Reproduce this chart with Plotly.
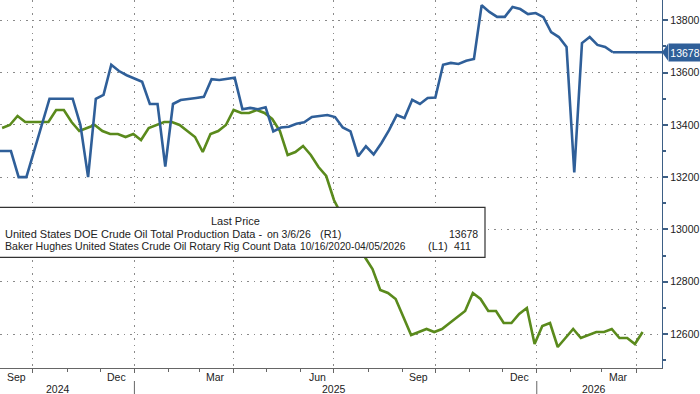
import plotly.graph_objects as go
import pandas as pd

# ---------------- data ----------------
# US DOE weekly crude oil production (kb/d), weekly points, last one plotted 2026-03-11
prod_last_date = "2026-03-11"
production = [
    13300, 13300, 13300, 13200, 13200, 13300, 13400, 13500, 13500, 13500,
    13500, 13400, 13200, 13500, 13515, 13630, 13606, 13590, 13579, 13565,
    13480, 13480, 13240, 13480, 13495, 13500, 13503, 13507, 13575, 13572,
    13576, 13580, 13460, 13465, 13460, 13467, 13375, 13390, 13393, 13404,
    13410, 13430, 13434, 13438, 13430, 13390, 13375, 13280, 13318, 13287,
    13330, 13380, 13438, 13426, 13496, 13480, 13503, 13505, 13630, 13637,
    13633, 13645, 13652, 13858, 13832, 13813, 13813, 13851, 13843, 13824,
    13828, 13812, 13755, 13736, 13698, 13218, 13713, 13736, 13706, 13698,
    13678,
]

# Baker Hughes US crude oil rotary rig count, weekly points, last one plotted 2026-04-07
rigs_last_date = "2026-04-07"
rigs = [
    479, 480, 483, 481, 481, 481, 481, 485, 485, 481,
    478, 479, 480, 478, 477, 477, 476, 477, 475, 479,
    480, 481, 481, 480, 478, 476, 471, 477, 478, 480,
    485, 484, 484, 485, 484, 482, 478, 470, 471, 473,
    470, 466, 463, 455, 450, 446, 441, 436, 432, 425,
    424, 422, 416, 410, 411, 412, 411, 412, 414, 416,
    418, 424, 422, 418, 418, 414, 414, 417, 419, 407,
    413, 414, 406, 409, 412, 409, 410, 411, 411, 412,
    409, 409, 407, 411,
]

month_label_dates = ["2024-09-16", "2024-12-16", "2025-03-16", "2025-06-16",
                     "2025-09-16", "2025-12-16", "2026-03-16"]
month_labels = ["Sep", "Dec", "Mar", "Jun", "Sep", "Dec", "Mar"]
year_label_dates = ["2024-10-24", "2025-07-01", "2026-02-22"]
year_labels = ["2024", "2025", "2026"]
year_breaks = ["2025-01-01", "2026-01-01"]
quarter_starts = ["2024-10-01", "2025-01-01", "2025-04-01", "2025-07-01",
                  "2025-10-01", "2026-01-01", "2026-04-01"]

legend_title = "Last Price"
name_prod = "United States DOE Crude Oil Total Production Data -"
date_prod = "on 3/6/26"
name_rigs = "Baker Hughes United States Crude Oil Rotary Rig Count Data"
date_rigs = "10/16/2020-04/05/2026"

x_range = ["2024-09-01 02:00", "2026-04-24 14:00"]
y_right_range = [12470, 13877.7]
y_left_range = [399, 521.67]

# ---------------- layout helpers ----------------
W, H = 700, 394
ML, MR, MT, MB = 0, 38, 0, 26
PW, PH = W - ML - MR, H - MT - MB

def px(x):
    return (x - ML) / PW

def py(y):
    return 1 - (y - MT) / PH

BLUE = "#2f5f99"
GREEN = "#5a8a1c"
FONT = "Liberation Sans"
TXT = "#222222"

prod_dates = pd.date_range(end=prod_last_date, periods=len(production), freq="7D")
rig_dates = pd.date_range(end=rigs_last_date, periods=len(rigs), freq="7D")

fig = go.Figure()
fig.add_trace(go.Scatter(x=rig_dates, y=rigs, mode="lines", yaxis="y",
                         line=dict(color=GREEN, width=2.6), hoverinfo="skip"))
fig.add_trace(go.Scatter(x=prod_dates, y=production, mode="lines", yaxis="y2",
                         line=dict(color=BLUE, width=2.6), hoverinfo="skip"))
# last-price guide line from the final point to the axis
fig.add_trace(go.Scatter(x=[prod_dates[-1], x_range[1]], y=[production[-1], production[-1]],
                         mode="lines", yaxis="y2", line=dict(color=BLUE, width=2.6),
                         hoverinfo="skip"))

fig.update_layout(
    width=W, height=H, margin=dict(l=ML, r=MR, t=MT, b=MB),
    paper_bgcolor="white", plot_bgcolor="white", showlegend=False,
    font=dict(family=FONT, size=11, color=TXT),
    xaxis=dict(range=x_range, type="date", tickmode="array", tickvals=quarter_starts,
               showticklabels=False, showgrid=True, gridcolor="#8a8a8a", griddash="1.5px,5px",
               gridwidth=1, ticks="outside", ticklen=4, tickcolor="#666",
               showline=True, linecolor="#666", linewidth=1, zeroline=False,
               minor=dict(tickmode="linear", tick0="2024-01-01", dtick="M1",
                          ticks="outside", ticklen=3, tickcolor="#666", showgrid=False)),
    yaxis=dict(range=y_left_range, visible=False, showgrid=False, zeroline=False),
    yaxis2=dict(range=y_right_range, overlaying="y", side="right", anchor="x",
                tickmode="linear", tick0=12600, dtick=200, tickformat="d",
                showgrid=True, gridcolor="#8a8a8a", griddash="1.5px,5px", gridwidth=1,
                ticks="outside", ticklen=5, tickwidth=2, tickcolor="#3d5f85",
                showline=True, linecolor="#3d5f85", linewidth=1.2, zeroline=False,
                tickfont=dict(size=10.5, color=TXT),
                minor=dict(tickmode="linear", tick0=12500, dtick=200, ticks="outside",
                           ticklen=3, tickcolor="#3d5f85", showgrid=False)),
)

shapes = []
# legend box
shapes.append(dict(type="rect", xref="paper", yref="paper",
                   x0=px(-3), x1=px(485), y0=py(257.3), y1=py(207.3),
                   line=dict(color="#333333", width=1.2), fillcolor="white", layer="above"))
# year separators under the axis
for d in year_breaks:
    shapes.append(dict(type="line", xref="x", yref="paper", x0=d, x1=d,
                       y0=py(381), y1=py(394), line=dict(color="#666", width=1)))
# pointer of the last-price tag
shapes.append(dict(type="path", xref="paper", yref="y2", xsizemode="pixel", ysizemode="pixel",
                   xanchor=1, yanchor=production[-1], path="M0,0 L6,8.5 L6,-8.5 Z",
                   fillcolor=BLUE, line=dict(width=0)))
fig.update_layout(shapes=shapes)

ann = []
for d, t in zip(month_label_dates, month_labels):
    ann.append(dict(x=d, xref="x", y=py(376.5), yref="paper", text=t, showarrow=False,
                    xanchor="center", yanchor="middle", font=dict(size=10.5, color=TXT)))
for d, t in zip(year_label_dates, year_labels):
    ann.append(dict(x=d, xref="x", y=py(389), yref="paper", text=t, showarrow=False,
                    xanchor="center", yanchor="middle", font=dict(size=10.5, color=TXT)))

def leg(text, x, y, anchor="left", size=11):
    ann.append(dict(x=px(x), y=py(y), xref="paper", yref="paper", text=text,
                    showarrow=False, xanchor=anchor, yanchor="middle",
                    font=dict(size=size, color=TXT)))

leg(legend_title, 235, 220.7, "center")
leg(name_prod, 3, 233.5)
leg(date_prod, 265, 233.5, size=10.5)
leg("(R1)", 318, 233.5)
leg(str(production[-1]), 480, 233.5, "right", size=10.5)
leg(name_rigs, 3, 246, size=10.6)
leg(date_rigs, 298, 246, size=10.2)
leg("(L1)", 426, 246)
leg(str(rigs[-1]), 452, 246, size=10.5)

# last-price tag
ann.append(dict(x=1, xref="paper", xshift=6, y=production[-1], yref="y2",
                text=str(production[-1]), showarrow=False, xanchor="left", yanchor="middle",
                bgcolor=BLUE, font=dict(size=10.5, color="white"), borderpad=1, width=30, height=15))
fig.update_layout(annotations=ann)

fig.write_html("out.html")
